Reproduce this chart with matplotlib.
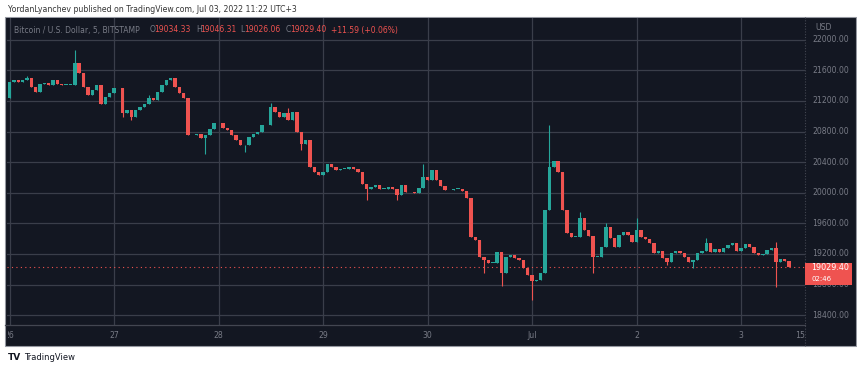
import matplotlib
matplotlib.use("Agg")
import matplotlib.pyplot as plt
from matplotlib.patches import Rectangle
from matplotlib.lines import Line2D

# hourly closes, one list per day (Jun 26 .. Jul 3)
jun26 = [21450, 21472, 21450, 21470, 21494, 21385, 21320, 21415, 21430, 21407, 21470, 21415,
         21407, 21407, 21410, 21700, 21560, 21385, 21280, 21340, 21407, 21166, 21254, 21300]
jun27 = [21363, 21370, 21036, 21080, 20992, 21080, 21123, 21166, 21232, 21210, 21320, 21407,
         21472, 21494, 21385, 21298, 21232, 20752, 20752, 20774, 20710, 20752, 20839, 20905]
jun28 = [20905, 20840, 20817, 20750, 20686, 20620, 20620, 20730, 20774, 20795, 20883, 20883,
         21124, 21058, 20992, 21036, 20949, 21058, 20795, 20642, 20686, 20336, 20270, 20227]
jun29 = [20270, 20380, 20336, 20293, 20315, 20315, 20336, 20315, 20270, 20118, 20052, 20074,
         20096, 20052, 20052, 20074, 20052, 19965, 20096, 20008, 20011, 19990, 20068, 20206]
jun30 = [20163, 20293, 20163, 20085, 20033, 20033, 20055, 20055, 20024, 19937, 19426, 19383,
         19166, 19123, 19080, 19080, 19231, 18950, 19166, 19188, 19144, 19123, 19015, 18928]
jul01 = [18841, 18863, 18950, 19780, 20336, 20414, 20271, 19773, 19470, 19426, 19426, 19665,
         19513, 19435, 19166, 19166, 19296, 19556, 19404, 19296, 19448, 19490, 19448, 19361]
jul02 = [19513, 19426, 19391, 19339, 19217, 19243, 19143, 19100, 19209, 19243, 19217, 19165,
         19100, 19122, 19209, 19243, 19339, 19230, 19261, 19230, 19274, 19317, 19348, 19243]
jul03 = [19274, 19330, 19287, 19217, 19187, 19200, 19252, 19274, 19100, 19130, 19113, 19029.40]
first_open = 21238

# wicks that stick out of the bodies (candle index -> price)
wick_high = {4: 21530, 15: 21865, 32: 21275, 60: 21176, 64: 21110, 95: 20380,
             124: 20891, 131: 19751, 137: 19600, 144: 19665, 160: 19404, 176: 19360}
wick_low = {26: 20992, 28: 20950, 45: 20512, 54: 20533, 67: 20555, 82: 19900, 89: 19900,
            109: 18950, 113: 18776, 120: 18603, 134: 18950, 151: 19056, 157: 19013, 176: 18774}

price_ticks = [18400, 18800, 19200, 19600, 20000, 20400, 20800, 21200, 21600, 22000]
day_ticks = [0, 1, 2, 3, 4, 5, 6, 7, 7.625]
day_labels = ["26", "27", "28", "29", "30", "Jul", "2", "3", "15:00"]
last_price = 19029.40

closes = jun26 + jun27 + jun28 + jun29 + jun30 + jul01 + jul02 + jul03
opens = [first_open] + closes[:-1]
t = [i / 24 for i in range(len(closes))]

bg = "#131722"
grid = "#3a3e4a"
up = "#26a69a"
down = "#ef5350"
txt = "#787b86"

W, H = 857, 370
fig = plt.figure(figsize=(W / 100, H / 100), dpi=100)
fig.patch.set_facecolor("white")

def fx(px):
    return px / W

def fy(py):
    return 1 - py / H

# dark chart panel (behind everything)
fig.patches.append(Rectangle((fx(5), fy(346)), 851 / W, 329 / H, transform=fig.transFigure,
                             facecolor=bg, edgecolor="#9598a1", lw=0.8, zorder=-5))

ax = fig.add_axes([fx(7), fy(325), 798 / W, 307 / H])
ax.set_facecolor(bg)
ax.set_xlim(-0.024, 7.612)
ax.set_ylim(18271, 22284)
for s in ax.spines.values():
    s.set_visible(False)
ax.set_xticks([])
ax.set_yticks([])

for p in price_ticks:
    ax.axhline(p, color=grid, lw=0.9, zorder=1)
for d in day_ticks[:-1]:
    ax.axvline(d, color=grid, lw=0.9, zorder=1)

# candles
w = 0.78 / 24
for i in range(len(closes)):
    o, c = opens[i], closes[i]
    col = up if c >= o else down
    hi = wick_high.get(i, max(o, c))
    lo = wick_low.get(i, min(o, c))
    ax.vlines(t[i], lo, hi, color=col, lw=0.8, zorder=3)
    h = c - o if abs(c - o) > 8 else (8 if c >= o else -8)
    ax.bar(t[i], h, bottom=o, width=w, color=col, lw=0, zorder=3)

ax.axhline(last_price, color=down, lw=0.8, ls=(0, (1, 3)), zorder=2)

# price scale labels
for p in price_ticks:
    ax.text(1.0095, p, f"{p:.2f}", transform=ax.get_yaxis_transform(), ha="left",
            va="center", fontsize=5.6, color=txt, clip_on=False)
fig.text(fx(815), fy(28), "USD", fontsize=5.6, color=txt, va="center")

# time scale
tax = fig.add_axes([fx(8), fy(345), 797 / W, 20 / H])
tax.set_xlim(-0.015, 7.612)
tax.set_ylim(0, 1)
tax.axis("off")
for d, lab in zip(day_ticks, day_labels):
    tax.text(d, 0.5, lab, ha="center", va="center", fontsize=5.6, color=txt, clip_on=True)

fig.add_artist(Line2D([fx(5), fx(805)], [fy(325), fy(325)], color="#434651", lw=0.9))
fig.add_artist(Line2D([fx(805), fx(805)], [fy(17), fy(346)], color="#434651", lw=0.8,
                      ls=(0, (1, 1.5))))

# last price tag
fig.patches.append(Rectangle((fx(805), fy(285)), 47 / W, 22 / H, transform=fig.transFigure,
                             facecolor=down, edgecolor="none", zorder=5))
fig.text(fx(811), fy(268), "19029.40", fontsize=5.8, color="white", va="center", zorder=6)
fig.text(fx(811), fy(279), "02:46", fontsize=5, color="white", va="center", zorder=6)

# legend line
fig.text(fx(14), fy(30), "Bitcoin / U.S. Dollar, 5, BITSTAMP", fontsize=5.5, color=txt, va="center")
for x0, lab, x1, val in [(150, "O", 154.5, "19034.33"), (196, "H", 200.5, "19046.31"),
                         (240, "L", 244.5, "19026.06"), (286, "C", 290.5, "19029.40")]:
    fig.text(fx(x0), fy(30), lab, fontsize=5.5, color=txt, va="center")
    fig.text(fx(x1), fy(30), val, fontsize=5.5, color=down, va="center")
fig.text(fx(331), fy(30), "+11.59 (+0.06%)", fontsize=5.5, color=down, va="center")

# header and footer
fig.text(fx(8), fy(9), "YordanLyanchev published on TradingView.com, Jul 03, 2022 11:22 UTC+3",
         fontsize=5.6, color="#333333", va="center")
fig.text(fx(8), fy(357), "TV", fontsize=6.5, color="#131722", va="center", weight="bold")
fig.text(fx(24), fy(357), "TradingView", fontsize=6, color="#131722", va="center")

fig.savefig("out.png", dpi=100, facecolor="white")
